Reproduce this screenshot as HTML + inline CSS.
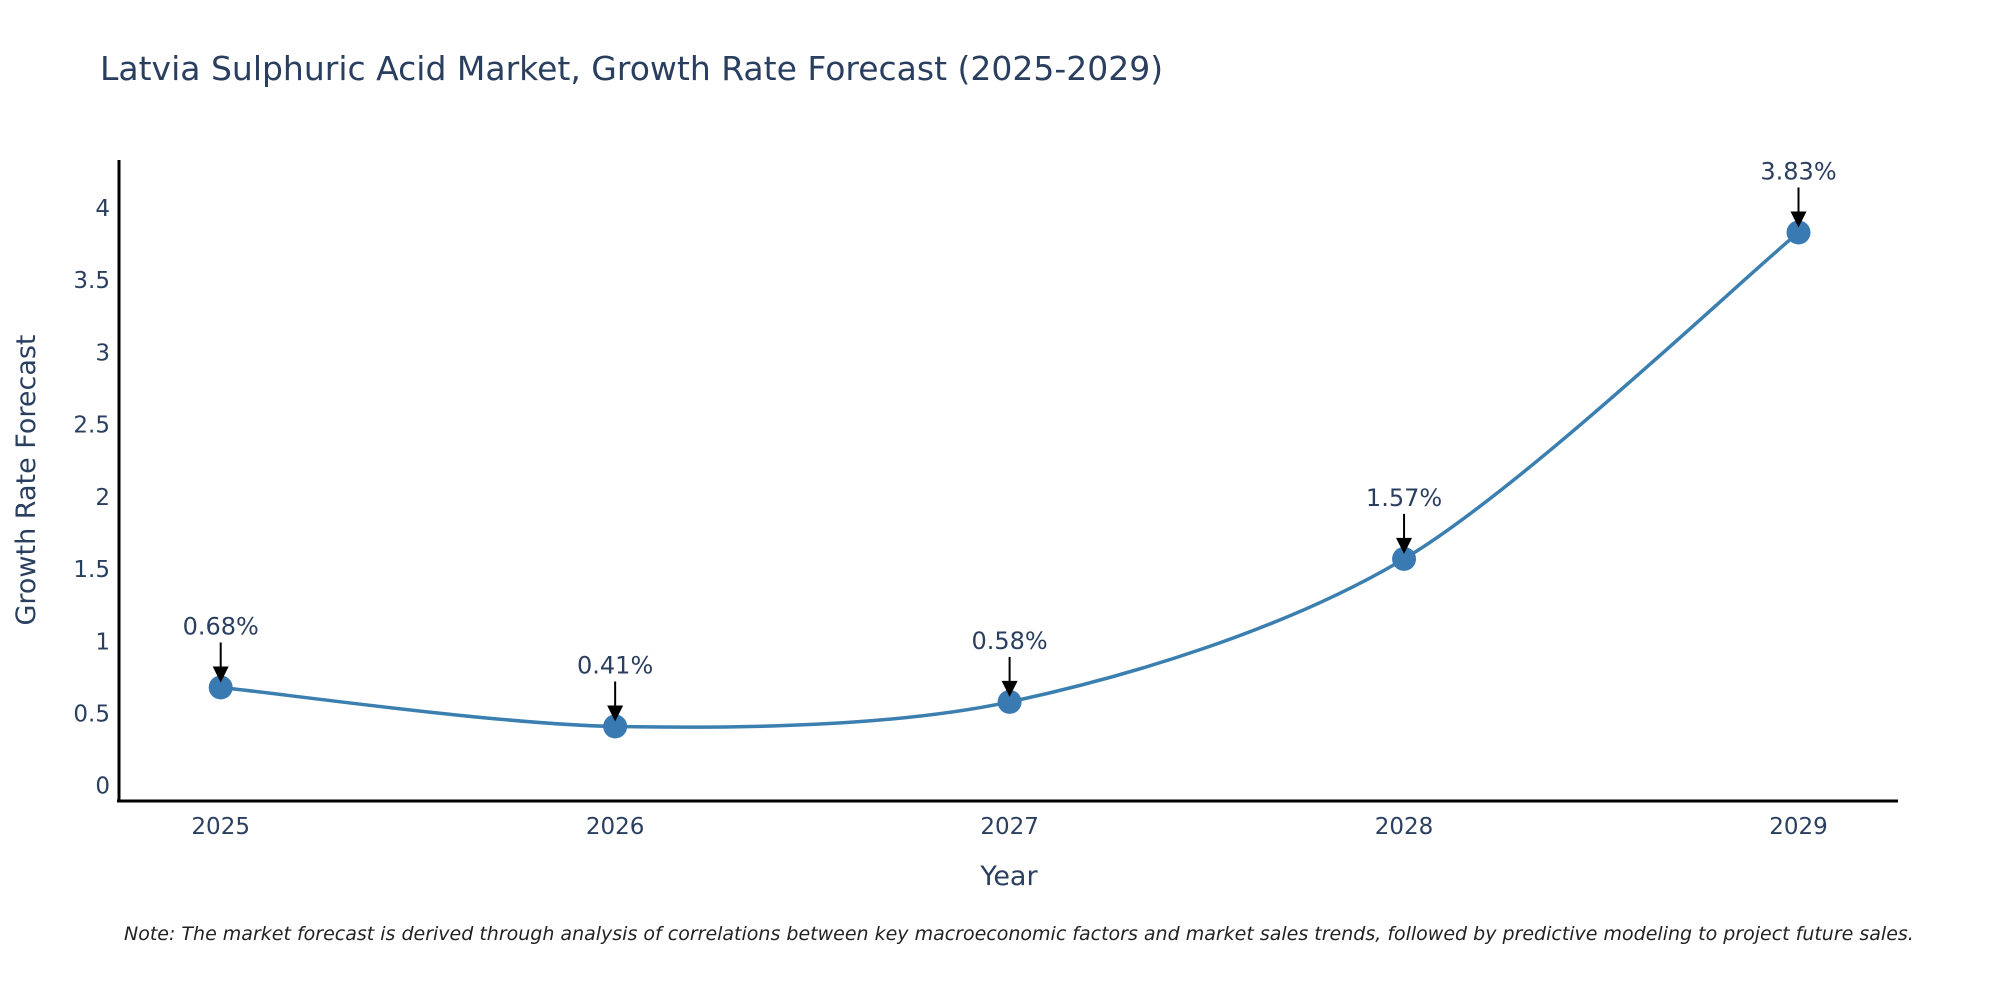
<!DOCTYPE html>
<html><head><meta charset="utf-8">
<style>
body{margin:0;background:#fff;}
svg{display:block;font-family:"DejaVu Sans","Liberation Sans",sans-serif;}
</style></head>
<body>
<svg id="chart" width="2000" height="1000" viewBox="0 0 2000 1000">
<text x="100" y="80" font-size="33" fill="#2a3f5f">Latvia Sulphuric Acid Market, Growth Rate Forecast (2025-2029)</text>
<g id="yticks"></g>
<g id="xticks"></g>
<line x1="119" y1="160" x2="119" y2="802" stroke="#000" stroke-width="3"/>
<line x1="117" y1="801" x2="1898" y2="801" stroke="#000" stroke-width="3"/>
<text transform="translate(35,480) rotate(-90)" text-anchor="middle" font-size="27" fill="#2a3f5f">Growth Rate Forecast</text>
<text x="1009" y="885" text-anchor="middle" font-size="27" fill="#2a3f5f">Year</text>
<g id="series"></g>
<text x="124" y="940" font-size="19" font-style="italic" fill="#222">Note: The market forecast is derived through analysis of correlations between key macroeconomic factors and market sales trends, followed by predictive modeling to project future sales.</text>
</svg>
<script>
const years = [2025, 2026, 2027, 2028, 2029];
const values = [0.68, 0.41, 0.58, 1.57, 3.83];
const valueLabels = ["0.68%", "0.41%", "0.58%", "1.57%", "3.83%"];
const yTicks = [0, 0.5, 1, 1.5, 2, 2.5, 3, 3.5, 4];
const yTickLabels = ["0", "0.5", "1", "1.5", "2", "2.5", "3", "3.5", "4"];

const NS = "http://www.w3.org/2000/svg";
function xScale(y){ return 220.7 + (y - 2025) * (1798.5 - 220.7) / 4; }
function yScale(v){ return 785.7 - v * (785.7 - 207.9) / 4; }
function mk(tag, attrs, parent){ const e = document.createElementNS(NS, tag); for (const k in attrs) e.setAttribute(k, attrs[k]); parent.appendChild(e); return e; }

const yg = document.getElementById('yticks');
yTicks.forEach((v, i) => {
  const t = mk('text', {x: 110, y: yScale(v) + 8, 'text-anchor': 'end', 'font-size': 23, fill: '#2a3f5f'}, yg);
  
  
  t.textContent = yTickLabels[i];
});
const xg = document.getElementById('xticks');
years.forEach(y => {
  const t = mk('text', {x: xScale(y), y: 834, 'text-anchor': 'middle', 'font-size': 23, fill: '#2a3f5f'}, xg);
  
  
  t.textContent = y;
});

const sg = document.getElementById('series');
const pts = years.map((y, i) => [xScale(y), yScale(values[i])]);
let d = 'M' + pts[0][0] + ',' + pts[0][1];
const s = 0.15;
for (let i = 0; i < pts.length - 1; i++) {
  const p0 = pts[Math.max(0, i - 1)], p1 = pts[i], p2 = pts[i + 1], p3 = pts[Math.min(pts.length - 1, i + 2)];
  const c1 = [p1[0] + (p2[0] - p0[0]) * s, p1[1] + (p2[1] - p0[1]) * s];
  const c2 = [p2[0] - (p3[0] - p1[0]) * s, p2[1] - (p3[1] - p1[1]) * s];
  d += ' C' + c1[0] + ',' + c1[1] + ' ' + c2[0] + ',' + c2[1] + ' ' + p2[0] + ',' + p2[1];
}
const line = mk('path', {d: d, fill: 'none', stroke: '#3a7fb0', 'stroke-width': 3.5}, sg);



pts.forEach((p, i) => {
  const c = mk('circle', {cx: p[0], cy: p[1], r: 12, fill: '#3a7ab3'}, sg);
  
  
  const a = mk('line', {x1: p[0], y1: p[1] - 45, x2: p[0], y2: p[1] - 14, stroke: '#000', 'stroke-width': 2}, sg);
  
  
  const h = mk('polygon', {points: (p[0] - 8) + ',' + (p[1] - 21) + ' ' + (p[0] + 8) + ',' + (p[1] - 21) + ' ' + p[0] + ',' + (p[1] - 5), fill: '#000'}, sg);
  
  
  const t = mk('text', {x: p[0], y: p[1] - 53, 'text-anchor': 'middle', 'font-size': 24, fill: '#2a3f5f'}, sg);
  
  
  t.textContent = valueLabels[i];
});
</script>
</body></html>
